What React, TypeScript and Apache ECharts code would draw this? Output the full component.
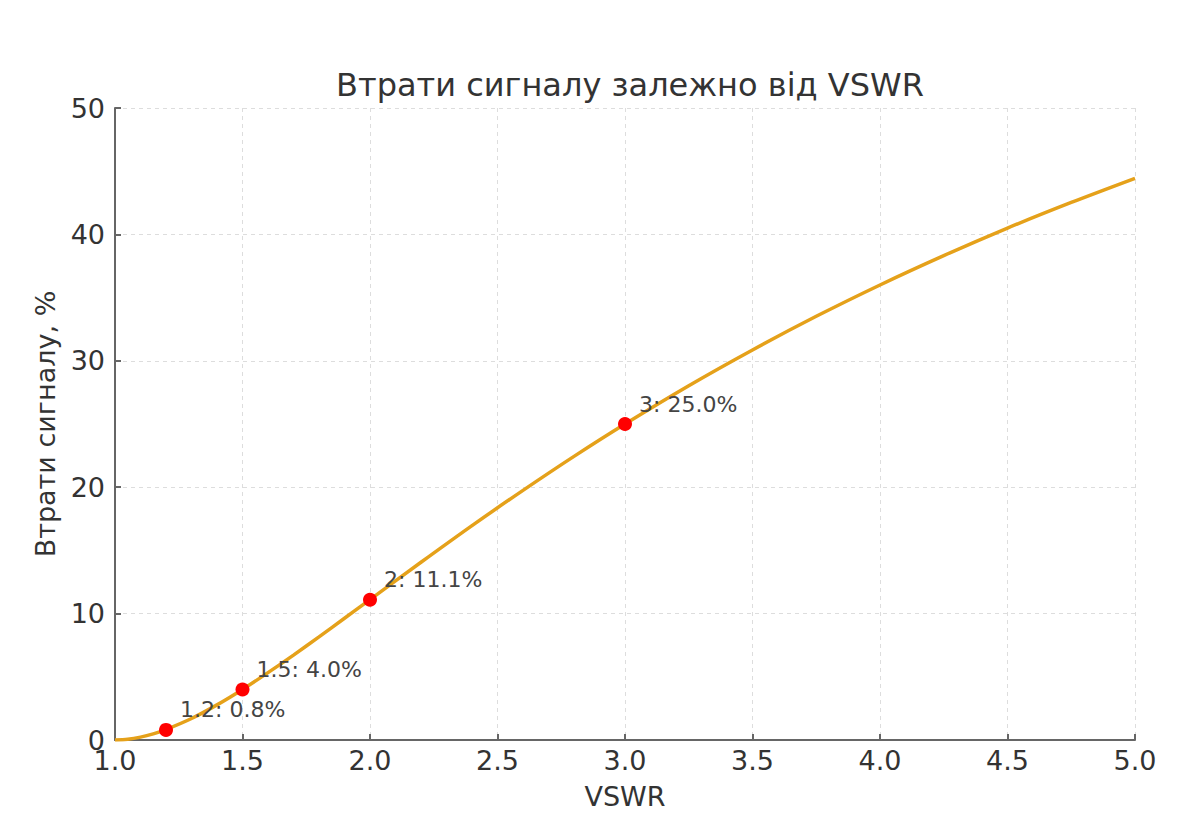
import React, { useEffect, useRef } from "react";
import * as echarts from "echarts";

const curveVswr = [1.0, 1.05, 1.1, 1.15, 1.2, 1.3, 1.4, 1.5, 1.6, 1.7, 1.8, 1.9, 2.0, 2.2, 2.4, 2.6, 2.8, 3.0, 3.25, 3.5, 3.75, 4.0, 4.25, 4.5, 4.75, 5.0];
const curveLoss = [0, 0.06, 0.23, 0.49, 0.83, 1.7, 2.78, 4.0, 5.33, 6.72, 8.16, 9.63, 11.11, 14.06, 16.96, 19.75, 22.44, 25.0, 28.03, 30.86, 33.52, 36.0, 38.32, 40.5, 42.53, 44.44];

const markVswr = [1.2, 1.5, 2, 3];
const markLoss = [0.8, 4.0, 11.1, 25.0];
const markLabels = ["1.2: 0.8%", "1.5: 4.0%", "2: 11.1%", "3: 25.0%"];

const FONT = "DejaVu Sans";

export default function App() {
  const ref = useRef<HTMLDivElement>(null);
  useEffect(() => {
    if (!ref.current) return;
    const chart = echarts.init(ref.current, null, { renderer: "svg" });
    chart.setOption({
      animation: false,
      backgroundColor: "#ffffff",
      textStyle: { fontFamily: FONT },
      title: {
        text: "Втрати сигналу залежно від VSWR",
        left: 625,
        textAlign: "center",
        top: 64,
        textStyle: { fontFamily: FONT, fontSize: 32, fontWeight: "normal", color: "#333333" },
      },
      grid: { left: 115, right: 65, top: 108, bottom: 89 },
      xAxis: {
        type: "value",
        min: 1,
        max: 5,
        interval: 0.5,
        name: "VSWR",
        nameLocation: "middle",
        nameGap: 43,
        nameTextStyle: { fontFamily: FONT, fontSize: 27, color: "#333333" },
        axisLine: { show: true, lineStyle: { color: "#666666", width: 2 } },
        axisTick: { show: true, inside: true, length: 6, lineStyle: { color: "#666666", width: 2 } },
        axisLabel: {
          fontFamily: FONT,
          fontSize: 27,
          color: "#333333",
          margin: 7,
          formatter: (v: number) => v.toFixed(1),
        },
        splitLine: { show: true, lineStyle: { color: "#dddddd", type: [4, 4], width: 1 } },
      },
      yAxis: {
        type: "value",
        min: 0,
        max: 50,
        interval: 10,
        name: "Втрати сигналу, %",
        nameLocation: "middle",
        nameGap: 56,
        nameTextStyle: { fontFamily: FONT, fontSize: 27, color: "#333333" },
        axisLine: { show: true, lineStyle: { color: "#666666", width: 2 } },
        axisTick: { show: true, inside: true, length: 6, lineStyle: { color: "#666666", width: 2 } },
        axisLabel: { fontFamily: FONT, fontSize: 27, color: "#333333", margin: 10 },
        splitLine: { show: true, lineStyle: { color: "#dddddd", type: [4, 4], width: 1 } },
      },
      series: [
        {
          type: "line",
          data: curveVswr.map((x, i) => [x, curveLoss[i]]),
          smooth: 0.3,
          showSymbol: false,
          lineStyle: { color: "#E5A11A", width: 3.5 },
          z: 2,
        },
        {
          type: "scatter",
          data: markVswr.map((x, i) => [x, markLoss[i]]),
          symbolSize: 14,
          itemStyle: { color: "#FF0000", opacity: 1 },
          z: 3,
          label: {
            show: true,
            position: [21, -13],
            align: "left",
            verticalAlign: "middle",
            fontFamily: FONT,
            fontSize: 22,
            color: "#444444",
            opacity: 1,
            formatter: (p: any) => markLabels[p.dataIndex],
          },
        },
      ],
    });
    return () => chart.dispose();
  }, []);
  return <div ref={ref} style={{ width: 1200, height: 829, margin: -8 }} />;
}
